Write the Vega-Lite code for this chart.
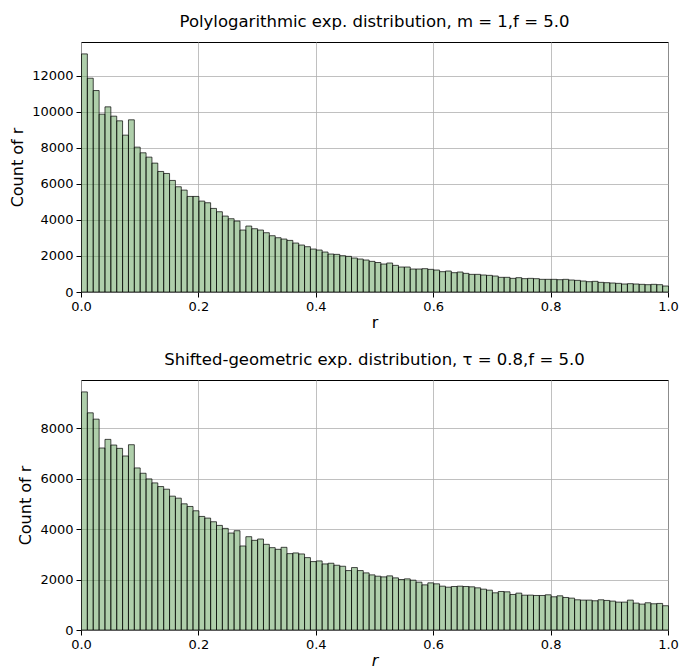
{
"$schema": "https://vega.github.io/schema/vega-lite/v6.json",
"background": "white",
"padding": {"left": 9, "top": 13, "right": 10, "bottom": 2},
"spacing": 20,
"datasets": {
"poly": [
{"a":0.00,"b":0.01,"n":13204},{"a":0.01,"b":0.02,"n":11856},{"a":0.02,"b":0.03,"n":11172},{"a":0.03,"b":0.04,"n":9861},{"a":0.04,"b":0.05,"n":10268},
{"a":0.05,"b":0.06,"n":9751},{"a":0.06,"b":0.07,"n":9492},{"a":0.07,"b":0.08,"n":8698},{"a":0.08,"b":0.09,"n":9548},{"a":0.09,"b":0.10,"n":8033},
{"a":0.10,"b":0.11,"n":7719},{"a":0.11,"b":0.12,"n":7479},{"a":0.12,"b":0.13,"n":7147},{"a":0.13,"b":0.14,"n":6685},{"a":0.14,"b":0.15,"n":6574},
{"a":0.15,"b":0.16,"n":6187},{"a":0.16,"b":0.17,"n":5836},{"a":0.17,"b":0.18,"n":5651},{"a":0.18,"b":0.19,"n":5300},{"a":0.19,"b":0.20,"n":5300},
{"a":0.20,"b":0.21,"n":5042},{"a":0.21,"b":0.22,"n":4949},{"a":0.22,"b":0.23,"n":4635},{"a":0.23,"b":0.24,"n":4451},{"a":0.24,"b":0.25,"n":4211},
{"a":0.25,"b":0.26,"n":4063},{"a":0.26,"b":0.27,"n":3934},{"a":0.27,"b":0.28,"n":3435},{"a":0.28,"b":0.29,"n":3657},{"a":0.29,"b":0.30,"n":3509},
{"a":0.30,"b":0.31,"n":3435},{"a":0.31,"b":0.32,"n":3287},{"a":0.32,"b":0.33,"n":3121},{"a":0.33,"b":0.34,"n":3010},{"a":0.34,"b":0.35,"n":2936},
{"a":0.35,"b":0.36,"n":2862},{"a":0.36,"b":0.37,"n":2715},{"a":0.37,"b":0.38,"n":2604},{"a":0.38,"b":0.39,"n":2512},{"a":0.39,"b":0.40,"n":2382},
{"a":0.40,"b":0.41,"n":2327},{"a":0.41,"b":0.42,"n":2216},{"a":0.42,"b":0.43,"n":2105},{"a":0.43,"b":0.44,"n":2087},{"a":0.44,"b":0.45,"n":2013},
{"a":0.45,"b":0.46,"n":1976},{"a":0.46,"b":0.47,"n":1884},{"a":0.47,"b":0.48,"n":1828},{"a":0.48,"b":0.49,"n":1773},{"a":0.49,"b":0.50,"n":1699},
{"a":0.50,"b":0.51,"n":1635},{"a":0.51,"b":0.52,"n":1551},{"a":0.52,"b":0.53,"n":1607},{"a":0.53,"b":0.54,"n":1477},{"a":0.54,"b":0.55,"n":1385},
{"a":0.55,"b":0.56,"n":1385},{"a":0.56,"b":0.57,"n":1274},{"a":0.57,"b":0.58,"n":1274},{"a":0.58,"b":0.59,"n":1293},{"a":0.59,"b":0.60,"n":1256},
{"a":0.60,"b":0.61,"n":1219},{"a":0.61,"b":0.62,"n":1127},{"a":0.62,"b":0.63,"n":1163},{"a":0.63,"b":0.64,"n":1071},{"a":0.64,"b":0.65,"n":1108},
{"a":0.65,"b":0.66,"n":1034},{"a":0.66,"b":0.67,"n":979},{"a":0.67,"b":0.68,"n":979},{"a":0.68,"b":0.69,"n":942},{"a":0.69,"b":0.70,"n":923},
{"a":0.70,"b":0.71,"n":886},{"a":0.71,"b":0.72,"n":813},{"a":0.72,"b":0.73,"n":813},{"a":0.73,"b":0.74,"n":757},{"a":0.74,"b":0.75,"n":794},
{"a":0.75,"b":0.76,"n":740},{"a":0.76,"b":0.77,"n":757},{"a":0.77,"b":0.78,"n":739},{"a":0.78,"b":0.79,"n":702},{"a":0.79,"b":0.80,"n":702},
{"a":0.80,"b":0.81,"n":702},{"a":0.81,"b":0.82,"n":683},{"a":0.82,"b":0.83,"n":702},{"a":0.83,"b":0.84,"n":665},{"a":0.84,"b":0.85,"n":646},
{"a":0.85,"b":0.86,"n":609},{"a":0.86,"b":0.87,"n":572},{"a":0.87,"b":0.88,"n":591},{"a":0.88,"b":0.89,"n":535},{"a":0.89,"b":0.90,"n":517},
{"a":0.90,"b":0.91,"n":499},{"a":0.91,"b":0.92,"n":480},{"a":0.92,"b":0.93,"n":443},{"a":0.93,"b":0.94,"n":462},{"a":0.94,"b":0.95,"n":443},
{"a":0.95,"b":0.96,"n":425},{"a":0.96,"b":0.97,"n":406},{"a":0.97,"b":0.98,"n":425},{"a":0.98,"b":0.99,"n":406},{"a":0.99,"b":1.00,"n":332}
],
"geom": [
{"a":0.00,"b":0.01,"n":9434},{"a":0.01,"b":0.02,"n":8605},{"a":0.02,"b":0.03,"n":8355},{"a":0.03,"b":0.04,"n":7211},{"a":0.04,"b":0.05,"n":7553},
{"a":0.05,"b":0.06,"n":7329},{"a":0.06,"b":0.07,"n":7197},{"a":0.07,"b":0.08,"n":6895},{"a":0.08,"b":0.09,"n":7342},{"a":0.09,"b":0.10,"n":6421},
{"a":0.10,"b":0.11,"n":6211},{"a":0.11,"b":0.12,"n":5987},{"a":0.12,"b":0.13,"n":5829},{"a":0.13,"b":0.14,"n":5684},{"a":0.14,"b":0.15,"n":5579},
{"a":0.15,"b":0.16,"n":5303},{"a":0.16,"b":0.17,"n":5224},{"a":0.17,"b":0.18,"n":5000},{"a":0.18,"b":0.19,"n":4895},{"a":0.19,"b":0.20,"n":4724},
{"a":0.20,"b":0.21,"n":4500},{"a":0.21,"b":0.22,"n":4434},{"a":0.22,"b":0.23,"n":4289},{"a":0.23,"b":0.24,"n":4145},{"a":0.24,"b":0.25,"n":4026},
{"a":0.25,"b":0.26,"n":3842},{"a":0.26,"b":0.27,"n":3934},{"a":0.27,"b":0.28,"n":3329},{"a":0.28,"b":0.29,"n":3697},{"a":0.29,"b":0.30,"n":3553},
{"a":0.30,"b":0.31,"n":3605},{"a":0.31,"b":0.32,"n":3395},{"a":0.32,"b":0.33,"n":3263},{"a":0.33,"b":0.34,"n":3197},{"a":0.34,"b":0.35,"n":3276},
{"a":0.35,"b":0.36,"n":3026},{"a":0.36,"b":0.37,"n":3053},{"a":0.37,"b":0.38,"n":3013},{"a":0.38,"b":0.39,"n":2868},{"a":0.39,"b":0.40,"n":2711},
{"a":0.40,"b":0.41,"n":2737},{"a":0.41,"b":0.42,"n":2618},{"a":0.42,"b":0.43,"n":2645},{"a":0.43,"b":0.44,"n":2566},{"a":0.44,"b":0.45,"n":2526},
{"a":0.45,"b":0.46,"n":2355},{"a":0.46,"b":0.47,"n":2474},{"a":0.47,"b":0.48,"n":2355},{"a":0.48,"b":0.49,"n":2263},{"a":0.49,"b":0.50,"n":2184},
{"a":0.50,"b":0.51,"n":2132},{"a":0.51,"b":0.52,"n":2105},{"a":0.52,"b":0.53,"n":2145},{"a":0.53,"b":0.54,"n":2066},{"a":0.54,"b":0.55,"n":2000},
{"a":0.55,"b":0.56,"n":2026},{"a":0.56,"b":0.57,"n":1974},{"a":0.57,"b":0.58,"n":1895},{"a":0.58,"b":0.59,"n":1789},{"a":0.59,"b":0.60,"n":1868},
{"a":0.60,"b":0.61,"n":1829},{"a":0.61,"b":0.62,"n":1737},{"a":0.62,"b":0.63,"n":1697},{"a":0.63,"b":0.64,"n":1724},{"a":0.64,"b":0.65,"n":1737},
{"a":0.65,"b":0.66,"n":1724},{"a":0.66,"b":0.67,"n":1711},{"a":0.67,"b":0.68,"n":1671},{"a":0.68,"b":0.69,"n":1618},{"a":0.69,"b":0.70,"n":1579},
{"a":0.70,"b":0.71,"n":1474},{"a":0.71,"b":0.72,"n":1526},{"a":0.72,"b":0.73,"n":1513},{"a":0.73,"b":0.74,"n":1408},{"a":0.74,"b":0.75,"n":1461},
{"a":0.75,"b":0.76,"n":1380},{"a":0.76,"b":0.77,"n":1382},{"a":0.77,"b":0.78,"n":1368},{"a":0.78,"b":0.79,"n":1368},{"a":0.79,"b":0.80,"n":1395},
{"a":0.80,"b":0.81,"n":1316},{"a":0.81,"b":0.82,"n":1355},{"a":0.82,"b":0.83,"n":1289},{"a":0.83,"b":0.84,"n":1263},{"a":0.84,"b":0.85,"n":1197},
{"a":0.85,"b":0.86,"n":1184},{"a":0.86,"b":0.87,"n":1184},{"a":0.87,"b":0.88,"n":1158},{"a":0.88,"b":0.89,"n":1197},{"a":0.89,"b":0.90,"n":1171},
{"a":0.90,"b":0.91,"n":1145},{"a":0.91,"b":0.92,"n":1105},{"a":0.92,"b":0.93,"n":1105},{"a":0.93,"b":0.94,"n":1184},{"a":0.94,"b":0.95,"n":1066},
{"a":0.95,"b":0.96,"n":1026},{"a":0.96,"b":0.97,"n":1079},{"a":0.97,"b":0.98,"n":1039},{"a":0.98,"b":0.99,"n":1053},{"a":0.99,"b":1.00,"n":961}
]
},
"vconcat": [
{
"title": {"text": "Polylogarithmic exp. distribution, m = 1,f = 5.0", "offset": 12},
"width": 587, "height": 250,
"data": {"name": "poly"},
"mark": {"type": "bar", "binSpacing": 0, "fill": "#5fa058", "fillOpacity": 0.5, "stroke": "#000", "strokeOpacity": 0.7, "strokeWidth": 1},
"encoding": {
"x": {"field": "a", "type": "quantitative", "bin": {"binned": true, "step": 0.01}, "scale": {"domain": [0, 1], "nice": false}, "axis": {"values": [0, 0.2, 0.4, 0.6, 0.8, 1.0], "format": ".1f", "title": "r"}},
"x2": {"field": "b"},
"y": {"field": "n", "type": "quantitative", "scale": {"domain": [0, 13864], "nice": false}, "axis": {"values": [0, 2000, 4000, 6000, 8000, 10000, 12000], "format": "d", "title": "Count of r"}}
}
},
{
"title": {"text": "Shifted-geometric exp. distribution, τ = 0.8,f = 5.0", "offset": 12},
"width": 587, "height": 250,
"data": {"name": "geom"},
"mark": {"type": "bar", "binSpacing": 0, "fill": "#5fa058", "fillOpacity": 0.5, "stroke": "#000", "strokeOpacity": 0.7, "strokeWidth": 1},
"encoding": {
"x": {"field": "a", "type": "quantitative", "bin": {"binned": true, "step": 0.01}, "scale": {"domain": [0, 1], "nice": false}, "axis": {"values": [0, 0.2, 0.4, 0.6, 0.8, 1.0], "format": ".1f", "title": "r", "titleFontStyle": "italic"}},
"x2": {"field": "b"},
"y": {"field": "n", "type": "quantitative", "scale": {"domain": [0, 9906], "nice": false}, "axis": {"values": [0, 2000, 4000, 6000, 8000], "format": "d", "title": "Count of r"}}
}
}
],
"config": {
"font": "DejaVu Sans",
"view": {"stroke": "#000", "strokeWidth": 1},
"axis": {"grid": true, "gridColor": "#b0b0b0", "gridWidth": 0.8, "domain": false, "tickColor": "#000", "tickSize": 5, "labelFontSize": 13, "labelColor": "#000", "labelPadding": 3, "labelFlush": false, "titleFontSize": 16, "titleFontWeight": "normal", "titleColor": "#000"},
"axisX": {"titlePadding": 1},
"axisY": {"titlePadding": 6},
"title": {"fontSize": 16.5, "fontWeight": "normal", "color": "#000"}
}
}
